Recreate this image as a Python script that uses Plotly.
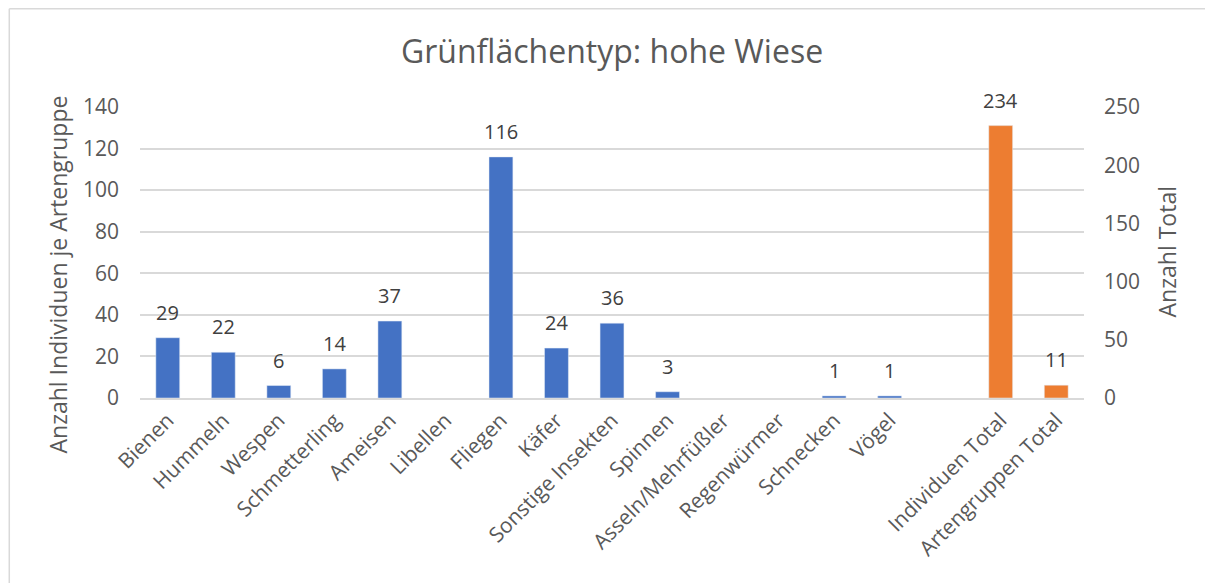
import plotly.graph_objects as go

categories = ["Bienen", "Hummeln", "Wespen", "Schmetterling", "Ameisen", "Libellen",
              "Fliegen", "Käfer", "Sonstige Insekten", "Spinnen", "Asseln/Mehrfüßler",
              "Regenwürmer", "Schnecken", "Vögel", " ", "Individuen Total", "Artengruppen Total"]
individuen = [29, 22, 6, 14, 37, None, 116, 24, 36, 3, None, None, 1, 1, None, None, None]
totals = [None] * 15 + [234, 11]

title_text = "Grünflächentyp: hohe Wiese"
left_title = "Anzahl Individuen je Artengruppe"
right_title = "Anzahl Total"

FONT = "Open Sans"
GREY = "#595959"
LABEL = "#404040"

OFF = 8  # page body margin
W, H = 1213 - OFF, 583 - OFF
# desired plot area in screen pixels
SX0, SX1, SY0, SY1 = 139.6, 1084.5, 107, 398
L = SX0 - OFF
T = SY0 - OFF
R = W - (SX1 - OFF)
B = H - (SY1 - OFF)
pw, ph = SX1 - SX0, SY1 - SY0

fig = go.Figure()
fig.add_trace(go.Bar(
    x=categories, y=individuen, name="Individuen", yaxis="y",
    marker_color="#4472C4", width=0.43,
))
fig.add_trace(go.Bar(
    x=categories, y=totals, name="Total", yaxis="y2",
    marker_color="#ED7D31", width=0.43,
))

annotations = []
for series, yref in ((individuen, "y"), (totals, "y2")):
    for c, v in zip(categories, series):
        if v is None:
            continue
        annotations.append(dict(
            x=c, y=v, xref="x", yref=yref, text=str(v), showarrow=False,
            xanchor="center", yanchor="middle", yshift=25.5,
            font=dict(family=FONT, size=20, color=LABEL)))

annotations += [
    dict(text=left_title, xref="paper", yref="paper",
         x=(58 - SX0) / pw, y=(SY1 - 274) / ph, xanchor="center", yanchor="middle",
         textangle=-90, showarrow=False, font=dict(family=FONT, size=23, color=GREY)),
    dict(text=right_title, xref="paper", yref="paper",
         x=(1168 - SX0) / pw, y=(SY1 - 252) / ph, xanchor="center", yanchor="middle",
         textangle=-90, showarrow=False, font=dict(family=FONT, size=23, color=GREY)),
]

bx0 = (0.75 - L) / pw
by1 = (T + ph - 0.75) / ph
fig.update_layout(
    width=W, height=H,
    margin=dict(l=L, r=R, t=T, b=B, pad=0),
    paper_bgcolor="white", plot_bgcolor="white",
    barmode="overlay", showlegend=False,
    font=dict(family=FONT, color=GREY),
    title=dict(text=title_text, x=(SX0 - OFF + pw / 2) / W, xanchor="center",
               y=1 - (52 - OFF) / H, yanchor="middle", yref="container",
               font=dict(family=FONT, size=32, color=GREY)),
    xaxis=dict(type="category", tickangle=-45, tickfont=dict(size=21, color=GREY),
               showline=True, linecolor="#d9d9d9", linewidth=1.5, ticks="",
               showgrid=False),
    yaxis=dict(range=[0, 140], dtick=20, showgrid=True, gridcolor="#d9d9d9",
               gridwidth=1.5, zeroline=False, tickfont=dict(size=21, color=GREY),
               ticks="", showline=False, ticklabelstandoff=20),
    yaxis2=dict(range=[0, 250], dtick=50, overlaying="y", side="right",
                showgrid=False, zeroline=False, tickfont=dict(size=21, color=GREY),
                ticks="", showline=False, ticklabelstandoff=19),
    annotations=annotations,
    shapes=[
        dict(type="line", xref="paper", yref="paper",
             x0=bx0, x1=(W + 20 - L) / pw, y0=by1, y1=by1,
             line=dict(color="#d9d9d9", width=1.5), layer="below"),
        dict(type="line", xref="paper", yref="paper",
             x0=bx0, x1=bx0, y0=-(H + 20 - T - ph) / ph, y1=by1,
             line=dict(color="#d9d9d9", width=1.5), layer="below"),
    ],
)

fig.write_html("out.html")
